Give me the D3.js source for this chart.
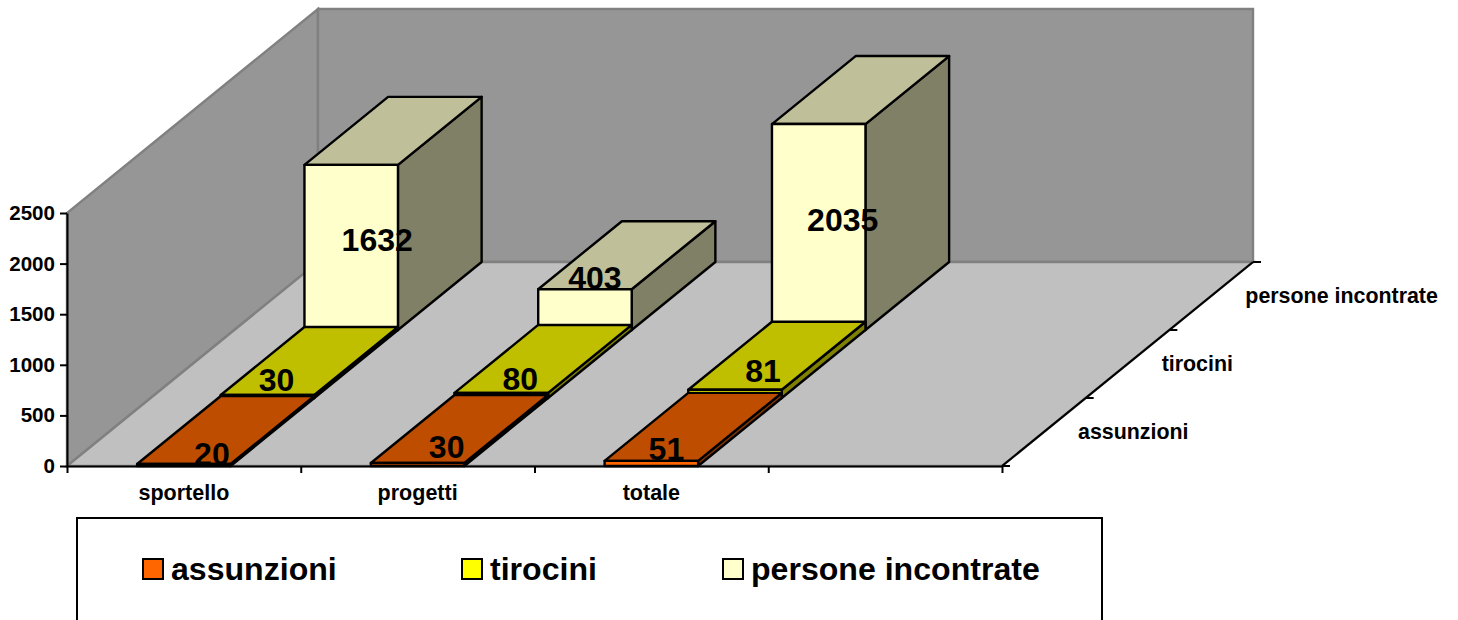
<!DOCTYPE html>
<html lang="it">
<head>
    <meta charset="UTF-8">
    <title>assunzioni, tirocini, persone incontrate</title>
    <script src="https://d3js.org/d3.v7.min.js"></script>
    <style>
        html, body { margin: 0; padding: 0; background: #fff; }
        svg { display: block; }
        text { font-family: "Liberation Sans", Arial, sans-serif; font-weight: bold; fill: #000; }
        .axis text { font-size: 20.6px; }
        .value { font-size: 32px; text-anchor: middle; }
        .legend text { font-size: 32.1px; }
    </style>
</head>
<body>
    <svg id="chart" width="1458" height="620"></svg>

    <script>
        // data
        const categories = ["sportello", "progetti", "totale", ""];
        const seriesNames = ["assunzioni", "tirocini", "persone incontrate"];
        const assunzioni = [20, 30, 51];
        const tirocini = [30, 80, 81];
        const personeIncontrate = [1632, 403, 2035];
        const seriesValues = [assunzioni, tirocini, personeIncontrate];
        const valueTicks = [0, 500, 1000, 1500, 2000, 2500];

        // the original draws the "80" bar only about 50 high, so bar heights differ from the labels there
        const tirociniDrawn = [30, 50, 81];
        const seriesDrawn = [assunzioni, tirociniDrawn, personeIncontrate];

        // front, top, side colour of each series
        const faceColors = [
            ["#FF6600", "#BF4D00", "#803300"],
            ["#FFFF00", "#BFBF00", "#808000"],
            ["#FFFFCC", "#BFBF99", "#808066"]
        ];

        // labels were placed by hand in the original, offset from the top front edge of the bar
        const labelNudge = [
            [[28, 1], [29, -5], [15, -1]],
            [[9, -4], [19, -3], [28, -8]],
            [[26, 86], [10, 0], [24, 107]]
        ];

        const depthX = 251, depthY = -204; // floor vector, front to back

        const svg = d3.select("#chart");

        const x = d3.scaleBand().domain(categories).range([67, 1002]).paddingInner(0.6).paddingOuter(0.3);
        const xEdges = d3.scaleLinear().domain([0, categories.length]).range([67, 1002]);
        const y = d3.scaleLinear().domain([0, 2500]).range([466, 213]);
        const depth = d3.scaleBand().domain(seriesNames).range([0, 1]);

        // project a (x pixel, y pixel, depth fraction) to the page
        const project = (px, py, f) => [px + depthX * f, py + depthY * f];
        const poly = pts => "M" + pts.map(p => p.join(",")).join("L") + "Z";

        // walls and floor
        const x0 = x.range()[0], x1 = x.range()[1], yBase = y(0), yTop = y(2500);
        const walls = [
            { fill: "#969696", pts: [project(x0, yBase, 0), project(x0, yTop, 0), project(x0, yTop, 1), project(x0, yBase, 1)] },
            { fill: "#969696", pts: [project(x0, yBase, 1), project(x0, yTop, 1), project(x1, yTop, 1), project(x1, yBase, 1)] },
            { fill: "#C0C0C0", pts: [project(x0, yBase, 0), project(x1, yBase, 0), project(x1, yBase, 1), project(x0, yBase, 1)] }
        ];
        svg.append("g").selectAll("path").data(walls).join("path")
            .attr("d", d => poly(d.pts))
            .attr("fill", d => d.fill)
            .attr("stroke", "#808080")
            .attr("stroke-width", 2.4);

        // bars, back series first
        const barLayer = svg.append("g")
            .attr("stroke", "#000")
            .attr("stroke-width", 2.4)
            .attr("stroke-linejoin", "round");

        for (let s = seriesNames.length - 1; s >= 0; s--) {
            const name = seriesNames[s];
            const f0 = depth(name);
            const f1 = f0 + depth.bandwidth();
            seriesDrawn[s].forEach((v, i) => {
                const l = x(categories[i]);
                const r = l + x.bandwidth();
                const t = y(v);
                const g = barLayer.append("g");
                g.append("path").attr("fill", faceColors[s][2])
                    .attr("d", poly([project(r, yBase, f0), project(r, t, f0), project(r, t, f1), project(r, yBase, f1)]));
                g.append("path").attr("fill", faceColors[s][1])
                    .attr("d", poly([project(l, t, f0), project(r, t, f0), project(r, t, f1), project(l, t, f1)]));
                g.append("path").attr("fill", faceColors[s][0])
                    .attr("d", poly([project(l, yBase, f0), project(r, yBase, f0), project(r, t, f0), project(l, t, f0)]));
            });
        }

        // value axis
        const yAxis = svg.append("g").attr("class", "axis")
            .attr("transform", `translate(${x0},0)`)
            .call(d3.axisLeft(y).tickValues(valueTicks).tickFormat(d3.format("d")).tickSize(7).tickPadding(5).tickSizeOuter(0));
        yAxis.selectAll("path, line").attr("stroke", "#000").attr("stroke-width", 2);

        // category axis: ticks on the slot edges, labels in the middle of the slots
        const xTicks = svg.append("g").attr("class", "axis")
            .attr("transform", `translate(0,${yBase})`)
            .call(d3.axisBottom(xEdges).tickValues(d3.range(categories.length + 1)).tickSize(7).tickSizeOuter(0).tickFormat(""));
        xTicks.selectAll("path, line").attr("stroke", "#000").attr("stroke-width", 2);

        const xLabels = svg.append("g").attr("class", "axis")
            .attr("transform", `translate(0,${yBase})`)
            .call(d3.axisBottom(x).tickSize(0).tickPadding(19));
        xLabels.select("path").remove();
        xLabels.selectAll("text").style("font-size", "21.5px");

        // depth axis
        const depthAxis = svg.append("g").attr("stroke", "#000").attr("stroke-width", 2);
        const [ax0, ay0] = project(x1, yBase, 0);
        const [ax1, ay1] = project(x1, yBase, 1);
        depthAxis.append("line").attr("x1", ax0).attr("y1", ay0).attr("x2", ax1).attr("y2", ay1);
        const depthEdges = seriesNames.map(n => depth(n)).concat(1);
        depthAxis.selectAll("line.tick").data(depthEdges).join("line")
            .attr("class", "tick")
            .attr("x1", d => project(x1, yBase, d)[0])
            .attr("y1", d => project(x1, yBase, d)[1])
            .attr("x2", d => project(x1, yBase, d)[0] + 8)
            .attr("y2", d => project(x1, yBase, d)[1]);

        svg.append("g").attr("class", "axis").selectAll("text").data(seriesNames).join("text")
            .attr("x", d => project(x1, yBase, depth(d))[0] + 76)
            .attr("y", d => project(x1, yBase, depth(d))[1] - 27)
            .style("font-size", "21.4px")
            .text(d => d);

        // value labels
        const labels = svg.append("g");
        seriesValues.forEach((vals, s) => {
            vals.forEach((v, i) => {
                const cx = x(categories[i]) + x.bandwidth() / 2;
                const p = project(cx, y(seriesDrawn[s][i]), depth(seriesNames[s]));
                labels.append("text").attr("class", "value")
                    .attr("x", p[0] + labelNudge[s][i][0])
                    .attr("y", p[1] + labelNudge[s][i][1])
                    .text(v);
            });
        });

        // legend, runs off the bottom of the picture
        const legend = svg.append("g").attr("class", "legend");
        legend.append("rect")
            .attr("x", 77).attr("y", 518).attr("width", 1025).attr("height", 130)
            .attr("fill", "#fff").attr("stroke", "#000").attr("stroke-width", 2);
        const legendX = d3.scaleOrdinal().domain(seriesNames).range([143, 462, 723]);
        seriesNames.forEach((n, s) => {
            legend.append("rect")
                .attr("x", legendX(n)).attr("y", 559).attr("width", 20).attr("height", 20)
                .attr("fill", faceColors[s][0]).attr("stroke", "#000").attr("stroke-width", 2);
            legend.append("text").attr("x", legendX(n) + 28).attr("y", 580).text(n);
        });
    </script>
</body>
</html>
